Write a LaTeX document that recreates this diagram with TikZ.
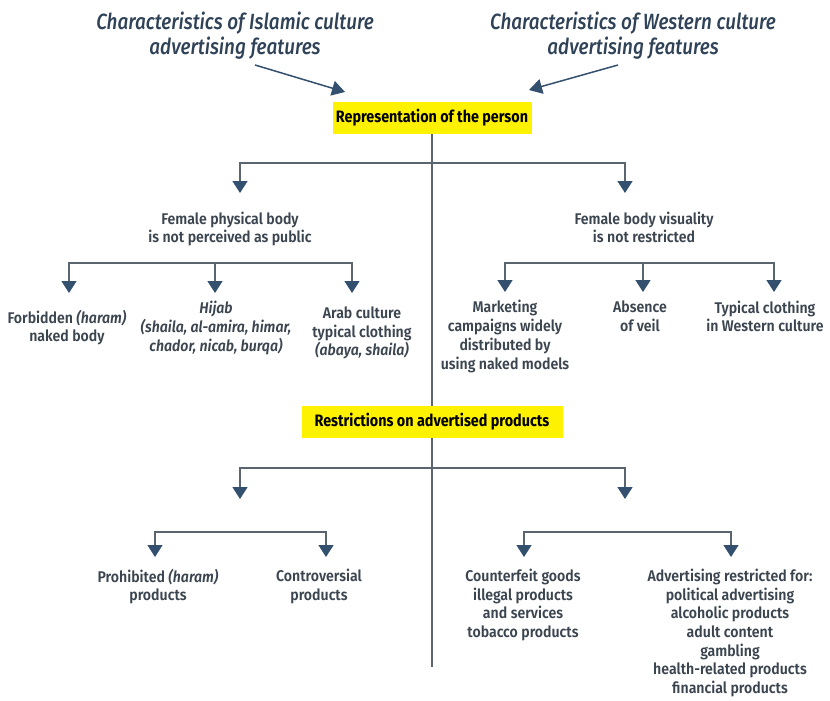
\documentclass[tikz,border=0pt]{standalone}
\usepackage{fontspec}
\setmainfont{Fira Sans}[FakeStretch=0.91, UprightFont=* SemiBold, ItalicFont=* SemiBold Italic, BoldFont=* Bold]
\newfontfamily\hdrfont{Fira Sans}[FakeStretch=0.86, UprightFont=* Medium Italic]
\newfontfamily\boxfont{Fira Sans}[FakeStretch=0.87, UprightFont=* Bold]
\usetikzlibrary{positioning,arrows.meta}
\definecolor{textgray}{HTML}{3B4550}
\definecolor{headblue}{HTML}{2F4257}
\definecolor{linegray}{HTML}{5B6570}
\definecolor{arrowblue}{HTML}{34506F}
\definecolor{boxyellow}{HTML}{FFF200}

\begin{document}
\begin{tikzpicture}[x=1pt,y=-1pt,
  conn/.style={draw=linegray,line width=1.5pt},
  arr/.style={conn,-{Triangle[width=15pt,length=12pt,color=arrowblue]}},
  harr/.style={draw=arrowblue,line width=1.5pt,-{Triangle[width=15pt,length=13pt,color=arrowblue]}},
  txt/.style={align=center,text=textgray,inner sep=0pt,font=\fontsize{15.5pt}{18.7pt}\selectfont},
  hdr/.style={align=center,text=headblue,inner sep=0pt,font=\hdrfont\fontsize{22pt}{25.5pt}\selectfont},
  ybox/.style={fill=boxyellow,inner sep=0pt,font=\boxfont\fontsize{16.5pt}{18pt}\selectfont}]
\useasboundingbox (0,0) rectangle (830,701);
\node[hdr] (hisl) at (235,35.5) {Characteristics of Islamic culture\\advertising features};
\node[hdr] (hwst) at (633,35.5) {Characteristics of Western culture\\advertising features};
\node[ybox,minimum width=199pt,minimum height=32pt] (per) at (432,118) {Representation of the person};
\coordinate (tend) at (432,667);
\draw[conn] (per.south) -- (tend);
\node[ybox,minimum width=261pt,minimum height=32pt] (prod) at (432,422) {Restrictions on advertised products};
\coordinate (hl) at (255,65);
\coordinate (hr) at (618,65);
\draw[harr] (hl) -- (345,92);
\draw[harr] (hr) -- (529,90);
% representation of the person
\coordinate (j1) at (432,163);
\draw[arr] (j1) -| (240,193);
\draw[arr] (j1) -| (625,193);
\node[txt] (fpb) at (230,229) {Female physical body\\is not perceived as public};
\node[txt] (fbv) at (644,227.5) {Female body visuality\\is not restricted};
\coordinate (j2) at (215,263);
\coordinate (j3) at (643,263);
\foreach \x in {69,352} \draw[arr] (j2) -| (\x,293);
\draw[arr] (j2) -- (215,293);
\foreach \x in {505,774} \draw[arr] (j3) -| (\x,292);
\draw[arr] (j3) -- (643,292);
\node[txt] (forb) at (67,327.5) {Forbidden \textit{(haram)}\\naked body};
\node[txt] (hij) at (216,328) {\textit{Hijab}\\\textit{(shaila, al-amira, himar,}\\\textit{chador, nicab, burqa)}};
\node[txt] (arab) at (362,333) {Arab culture\\typical clothing\\\textit{(abaya, shaila)}};
\node[txt] (mkt) at (505,336.5) {Marketing\\campaigns widely\\distributed by\\using naked models};
\node[txt] (veil) at (640,316.5) {Absence\\of veil};
\node[txt] (typ) at (765,316.5) {Typical clothing\\in Western culture};
% restrictions on advertised products
\coordinate (j4) at (432,468);
\draw[arr] (j4) -| (240,499);
\draw[arr] (j4) -| (625,499);
\coordinate (j5) at (240,532);
\coordinate (j6) at (625,532);
\foreach \x in {155,326} \draw[arr] (j5) -| (\x,557);
\foreach \x in {524,731} \draw[arr] (j6) -| (\x,557);
\node[txt] (proh) at (158,586.5) {Prohibited \textit{(haram)}\\products};
\node[txt] (contr) at (319,586.5) {Controversial\\products};
\node[txt] (cntf) at (523,605) {Counterfeit goods\\illegal products\\and services\\tobacco products};
\node[txt] (advr) at (730,633) {Advertising restricted for:\\political advertising\\alcoholic products\\adult content\\gambling\\health-related products\\financial products};
\end{tikzpicture}
\end{document}
